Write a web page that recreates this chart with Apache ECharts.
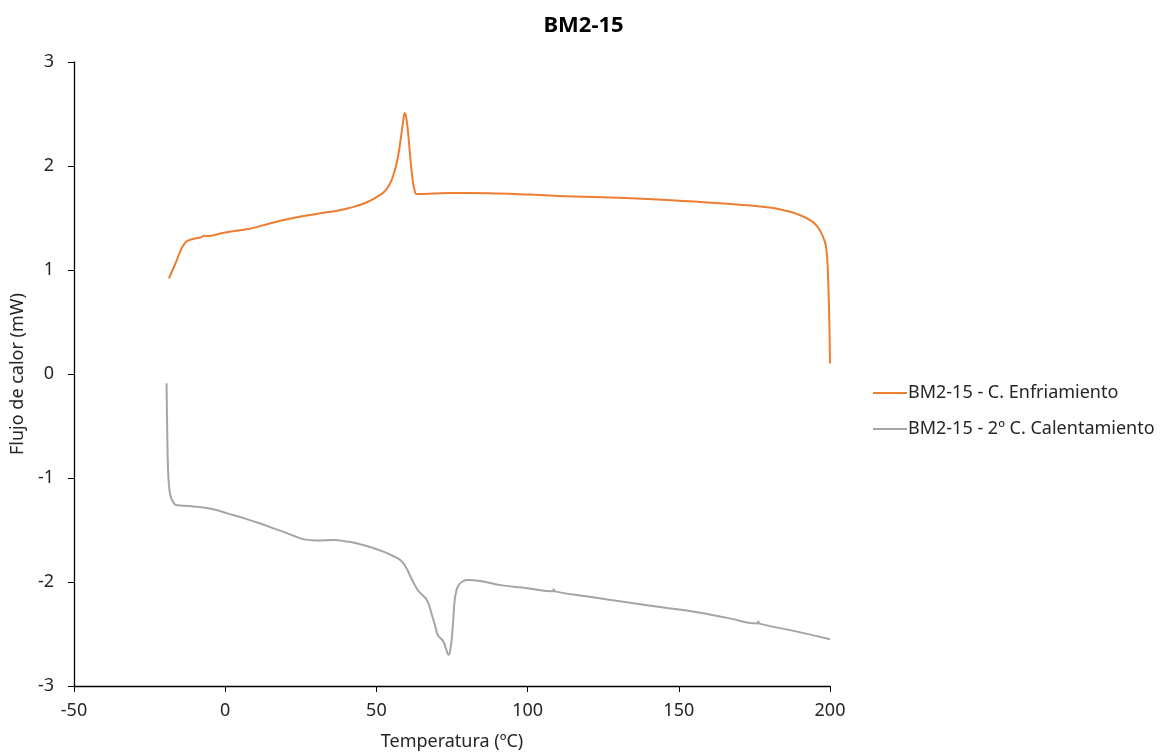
<!DOCTYPE html>
<html>
<head>
<meta charset="utf-8">
<script src="https://cdn.jsdelivr.net/npm/echarts@6/dist/echarts.min.js"></script>
<style>html,body{margin:0;padding:0;background:#fff}#c{width:1167px;height:756px}</style>
</head>
<body>
<div id="c"></div>
<script>
const chartTitle = 'BM2-15';
const seriesNames = ['BM2-15 - C. Enfriamiento', 'BM2-15 - 2º C. Calentamiento'];
const xTicks = [-50, 0, 50, 100, 150, 200];
const yTicks = [-3, -2, -1, 0, 1, 2, 3];

const tempCooling = [-18.6, -16.5, -13.3, -10.3, -8.0, -7.0, -6.5, 0, 8.5, 15, 21.7, 27, 32.7, 37, 41.5, 45, 48.1, 50.5, 52.5, 54.3, 55.8, 57.0, 58.0, 58.8, 59.4, 60.0, 60.7, 61.3, 61.9, 62.6, 63.3, 65, 68.9, 74.5, 80, 90, 100, 112, 125, 138, 150, 157.1, 165, 173.6, 180, 184.6, 189, 193.4, 195.5, 197.2, 198.2, 198.7, 199.1, 199.4, 199.7, 199.9, 200];
const flowCooling = [0.92, 1.06, 1.26, 1.30, 1.315, 1.33, 1.325, 1.36, 1.40, 1.45, 1.495, 1.525, 1.55, 1.57, 1.60, 1.63, 1.67, 1.71, 1.75, 1.82, 1.93, 2.07, 2.25, 2.42, 2.51, 2.44, 2.25, 2.05, 1.89, 1.77, 1.73, 1.73, 1.735, 1.74, 1.74, 1.735, 1.725, 1.71, 1.70, 1.685, 1.665, 1.655, 1.64, 1.62, 1.60, 1.575, 1.54, 1.48, 1.43, 1.35, 1.28, 1.22, 1.10, 0.90, 0.60, 0.30, 0.10];

const tempHeating = [-19.4, -19.2, -18.9, -18.5, -18.0, -17.2, -16.3, -12, -8.1, -4, 0.7, 6, 11.8, 15.5, 19.5, 23, 26.1, 30, 36.0, 40, 43.7, 48, 52.5, 55.5, 58.0, 59.8, 61.3, 62.7, 64.0, 65.4, 66.6, 67.6, 68.5, 69.5, 70.3, 71.2, 72.1, 73.0, 73.9, 74.5, 75.0, 75.4, 75.8, 76.4, 77.2, 78.5, 80.0, 84.4, 91.0, 100, 108.3, 108.6, 109.0, 120, 133.9, 145, 156.0, 166, 176.0, 176.3, 176.7, 188, 200];
const flowHeating = [-0.09, -0.50, -0.92, -1.10, -1.18, -1.23, -1.26, -1.27, -1.28, -1.30, -1.34, -1.385, -1.44, -1.48, -1.52, -1.56, -1.59, -1.60, -1.595, -1.61, -1.63, -1.665, -1.71, -1.75, -1.79, -1.86, -1.95, -2.03, -2.09, -2.13, -2.17, -2.24, -2.33, -2.43, -2.51, -2.54, -2.57, -2.64, -2.70, -2.64, -2.52, -2.37, -2.20, -2.09, -2.03, -1.995, -1.98, -1.99, -2.03, -2.06, -2.09, -2.07, -2.09, -2.14, -2.20, -2.245, -2.29, -2.345, -2.40, -2.38, -2.40, -2.47, -2.55];

const pairs = (xs, ys) => xs.map((x, i) => [x, ys[i]]);
const FONT = '"Noto Sans", "Open Sans", sans-serif';
const TXT = '#262626';

const chart = echarts.init(document.getElementById('c'));
chart.setOption({
  animation: false,
  backgroundColor: '#fff',
  title: {
    text: chartTitle, left: 'center', top: 10,
    textStyle: { fontFamily: FONT, fontSize: 22, fontWeight: 'bold', color: '#000' }
  },
  legend: {
    orient: 'vertical', left: 868, top: 379, itemWidth: 34, itemHeight: 2, itemGap: 18,
    icon: 'rect',
    textStyle: { fontFamily: FONT, fontSize: 18, color: TXT, padding: [0, 0, 0, -4] },
    data: seriesNames
  },
  grid: { left: 74, right: 337, top: 62, bottom: 68 },
  xAxis: {
    type: 'value', min: -50, max: 200, interval: 50,
    name: 'Temperatura (ºC)', nameLocation: 'middle', nameGap: 47,
    nameTextStyle: { fontFamily: FONT, fontSize: 18, color: TXT },
    axisLine: { onZero: false, lineStyle: { color: '#000', width: 1.3 } },
    axisTick: { show: true, length: 6, lineStyle: { color: '#000' } },
    axisLabel: { fontFamily: FONT, fontSize: 18, color: TXT, margin: 16,
      formatter: v => xTicks.includes(v) ? String(v) : '' },
    splitLine: { show: false }
  },
  yAxis: {
    type: 'value', min: -3, max: 3, interval: 1,
    name: 'Flujo de calor (mW)', nameLocation: 'middle', nameGap: 45,
    nameTextStyle: { fontFamily: FONT, fontSize: 18, color: TXT },
    axisLine: { show: true, onZero: false, lineStyle: { color: '#000', width: 1.3 } },
    axisTick: { show: true, length: 6, lineStyle: { color: '#000' } },
    axisLabel: { fontFamily: FONT, fontSize: 18, color: TXT, margin: 20,
      formatter: v => yTicks.includes(v) ? String(v) : '' },
    splitLine: { show: false }
  },
  series: [
    {
      name: seriesNames[0], type: 'line', data: pairs(tempCooling, flowCooling),
      showSymbol: false, smooth: 0.5,
      color: '#ED7D31', lineStyle: { color: '#ED7D31', width: 2 }
    },
    {
      name: seriesNames[1], type: 'line', data: pairs(tempHeating, flowHeating),
      showSymbol: false, smooth: 0.5,
      color: '#A5A5A5', lineStyle: { color: '#A5A5A5', width: 2 }
    }
  ]
});
</script>
</body>
</html>
